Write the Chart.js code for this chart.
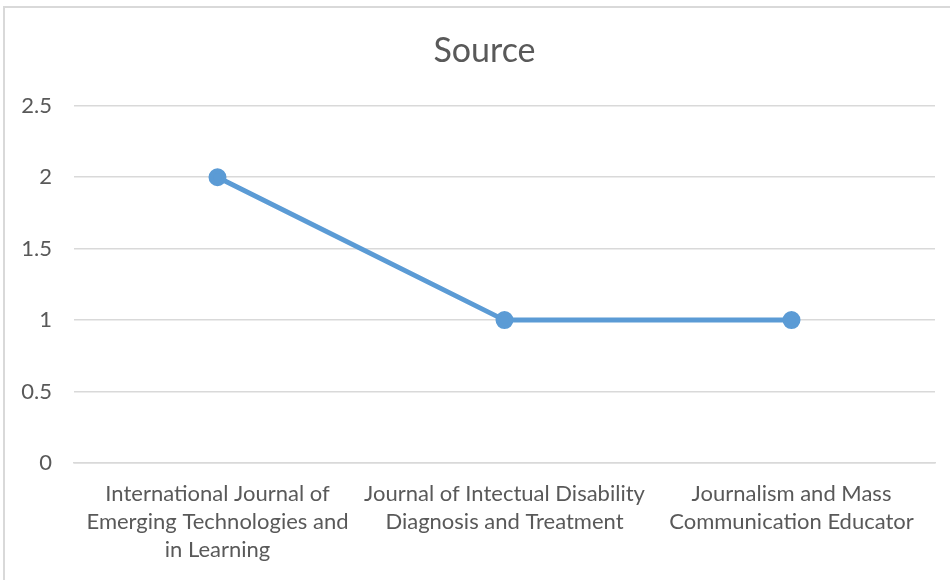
<!DOCTYPE html>
<html>
<head>
<meta charset="utf-8">
<script src="https://cdn.jsdelivr.net/npm/chart.js@4/dist/chart.umd.min.js"></script>
<style>
    html, body { margin: 0; padding: 0; background: #fff; overflow: hidden; }
    #frame {
        position: absolute; left: 3px; top: 6px;
        width: 1000px; height: 640px;
        border: 2px solid #D9D9D9;
        box-sizing: border-box;
    }
    #wrap { position: absolute; left: 0; top: 0; width: 950px; height: 580px; }
</style>
</head>
<body>
<div id="frame"></div>
<div id="wrap"><canvas id="sourceChart"></canvas></div>
<script>
// Chart data
const categories = [
    ['International Journal of', 'Emerging Technologies and', 'in Learning'],
    ['Journal of Intectual Disability', 'Diagnosis and Treatment'],
    ['Journalism and Mass', 'Communication Educator']
];
const sourceCounts = [2, 1, 1];
const yTicks = [0, 0.5, 1, 1.5, 2, 2.5];

const textColor = '#595959';
const gridColor = '#D9D9D9';
const lineColor = '#5B9BD5';
const fontFamily = 'Lato, "Liberation Sans", sans-serif';

// the title in the original sits a bit right of the canvas centre
const titleShift = {
    id: 'titleShift',
    afterLayout(chart) {
        if (chart.titleBlock) {
            chart.titleBlock.left += 17;
            chart.titleBlock.right += 17;
        }
    }
};

const ctx = document.getElementById('sourceChart');

const config = {
    type: 'line',
    data: {
        labels: categories,
        datasets: [{
            label: 'Source',
            data: sourceCounts,
            borderColor: lineColor,
            backgroundColor: lineColor,
            borderWidth: 5,
            pointRadius: 6.5,
            pointBackgroundColor: lineColor,
            pointBorderColor: lineColor,
            tension: 0,
            fill: false
        }]
    },
    options: {
        responsive: false,
        animation: false,
        devicePixelRatio: 1,
        layout: {
            padding: { left: 0, right: 15, top: 0, bottom: 0 }
        },
        plugins: {
            legend: { display: false },
            tooltip: { enabled: false },
            title: {
                display: true,
                text: 'Source',
                color: textColor,
                font: { family: fontFamily, size: 34, weight: 'normal', lineHeight: 1.2 },
                padding: { top: 31, bottom: 34 }
            }
        },
        scales: {
            x: {
                offset: true,
                grid: { display: false, drawTicks: false },
                border: { display: true, color: gridColor, width: 1.5 },
                ticks: {
                    color: textColor,
                    font: { family: fontFamily, size: 22, lineHeight: '28px' },
                    padding: 17,
                    maxRotation: 0,
                    autoSkip: false
                },
                afterFit: (scale) => { scale.height = 117; }
            },
            y: {
                min: 0,
                max: 2.5,
                afterBuildTicks: (scale) => {
                    scale.ticks = yTicks.map(v => ({ value: v }));
                },
                grid: { color: gridColor, lineWidth: 1.5, drawTicks: false },
                border: { display: false },
                ticks: {
                    color: textColor,
                    font: { family: fontFamily, size: 22 },
                    padding: 22,
                    callback: (value) => String(value)
                },
                afterFit: (scale) => { scale.width = 74; }
            }
        }
    },
    plugins: [titleShift]
};

ctx.width = 950;
ctx.height = 580;
new Chart(ctx, config);
</script>
</body>
</html>
